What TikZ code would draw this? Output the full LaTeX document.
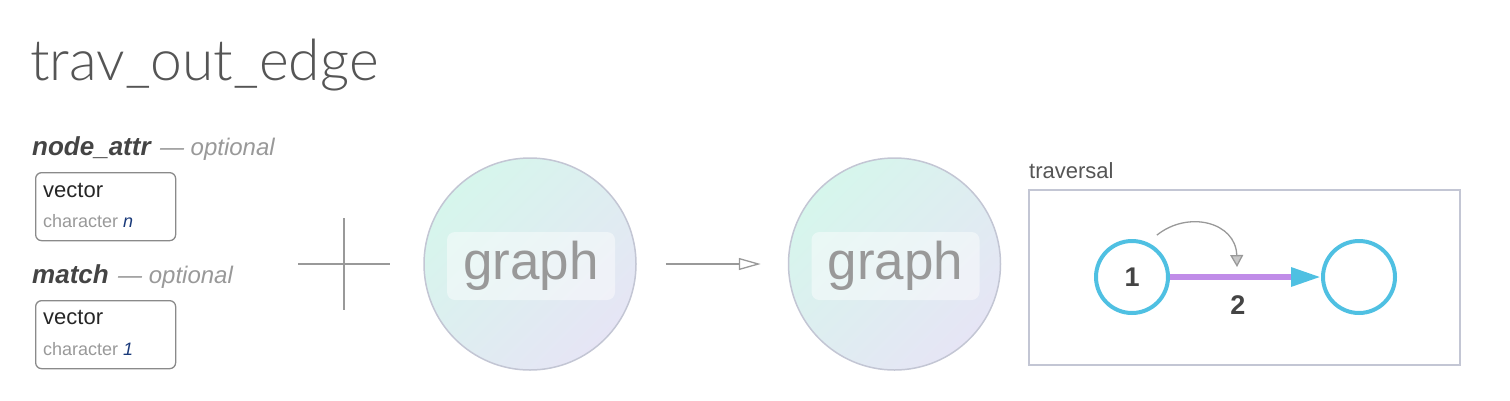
\documentclass[tikz,border=0pt]{standalone}
\usepackage{fontspec}
\setmainfont{Liberation Sans}
\newfontfamily\titlefont{Lato Light}
\usetikzlibrary{positioning,calc}
\usetikzlibrary{arrows.meta}

\definecolor{titlegray}{HTML}{555555}
\definecolor{argdark}{HTML}{444444}
\definecolor{softgray}{HTML}{999999}
\definecolor{boxgray}{HTML}{8A8A8A}
\definecolor{ringgray}{HTML}{C3C6D4}
\definecolor{mint}{HTML}{D6F6EC}
\definecolor{lavender}{HTML}{E6E5F5}
\definecolor{valblue}{HTML}{1A3A7A}
\definecolor{travblue}{HTML}{4FC0E2}
\definecolor{travpurple}{HTML}{C08CE8}

\newcommand{\fs}[1]{\fontsize{#1}{#1}\selectfont}

\begin{document}
\begin{tikzpicture}[x=1pt,y=-1pt,
         txt/.style = {inner sep=0pt, anchor=base west},
         argbox/.style = {draw=boxgray, line width=1.3pt, rounded corners=6pt,
         minimum width=140pt, minimum height=68pt, anchor=north west},
         graphball/.style = {circle, draw=ringgray, line width=1.5pt,
         minimum size=212pt, shading=axis, top color=mint,
         bottom color=lavender, shading angle=45},
         graphtag/.style = {rounded corners=8pt, fill=white, fill opacity=0.45,
         text opacity=1, minimum width=168pt, minimum height=68pt,
         text=softgray, font=\fs{53}},
         travnode/.style = {circle, draw=travblue, line width=4pt,
         minimum size=72pt, inner sep=0pt, font=\fs{27}\bfseries,
         text=argdark}
]
      \useasboundingbox (0,0) rectangle (1510,400);

      % title
      \node[txt, text=titlegray, font=\titlefont\fs{57}] (title) at (30,80)
      {trav\_out\_edge};

      % arguments
      \node[txt, text=argdark, font=\fs{26}\bfseries\itshape] (arg1) at (32,155)
      {node\_attr};
      \node[txt, text=softgray, font=\fs{24}\itshape, right=9pt of arg1.base east,
      anchor=base west] (opt1) {--- optional};
      \node[argbox] (box1) at (35,172) {};
      \node[txt, text=black!85, font=\fs{22}] (type1) at (43,197) {vector};
      \node[txt, text=softgray, font=\fs{18}] (sub1) at (43,227)
      {character \textcolor{valblue}{\itshape n}};

      \node[txt, text=argdark, font=\fs{26}\bfseries\itshape] (arg2) at (32,283)
      {match};
      \node[txt, text=softgray, font=\fs{24}\itshape, right=9pt of arg2.base east,
      anchor=base west] (opt2) {--- optional};
      \node[argbox] (box2) at (35,300) {};
      \node[txt, text=black!85, font=\fs{22}] (type2) at (43,324) {vector};
      \node[txt, text=softgray, font=\fs{18}] (sub2) at (43,355)
      {character \textcolor{valblue}{\itshape 1}};

      % plus sign
      \draw[softgray, line width=1.3pt] (298,264) -- (390,264);
      \draw[softgray, line width=1.3pt] (344,218) -- (344,310);

      % graph in, graph out
      \node[graphball] (g1) at (530,264) {};
      \node[graphtag] (t1) at (531,266) {graph};
      \node[graphball, right=151pt of g1] (g2) {};
      \node[graphtag] (t2) at ($(g2)+(1,2)$) {graph};

      \draw[softgray, line width=1.3pt, -{Triangle[open, length=22pt, width=12pt]}]
      ([xshift=29pt]g1.east) -- ([xshift=-27pt]g2.west);

      % traversal panel
      \node[txt, text=titlegray, font=\fs{22}] (travlbl) at (1029,178) {traversal};
      \draw[ringgray, line width=1.8pt] (1029,190) rectangle (1460,365);

      \node[travnode] (v1) at (1132,277) {1};
      \node[travnode, right=151pt of v1] (v2) {};

      \draw[travpurple, line width=6pt,
      -{Triangle[length=30pt, width=18pt, color=travblue]}]
      (v1.east) -- (v2.west)
      node[pos=0.45, below=12pt, font=\fs{27}\bfseries, text=argdark] (e2) {2};

      \coordinate (c0) at ([xshift=-2pt, yshift=15pt]v1.north east);
      \coordinate (c1) at (1237,267);
      \draw[softgray, line width=1.3pt,
      -{Triangle[length=12pt, width=13pt, fill=black!22]}]
      (c0) .. controls (1188,210) and (1236,222) .. (c1);

\end{tikzpicture}
\end{document}
